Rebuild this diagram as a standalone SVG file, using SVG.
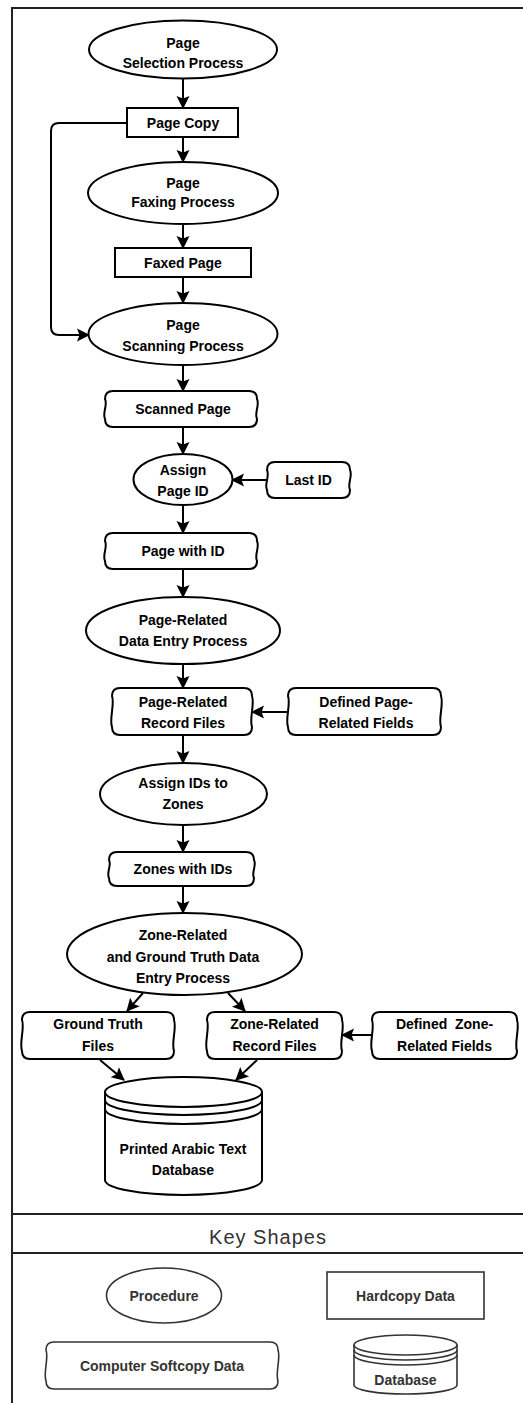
<svg xmlns="http://www.w3.org/2000/svg" width="523" height="1403" viewBox="0 0 523 1403">
<style>
.s{fill:#fff;stroke:#000;stroke-width:2}
.k{fill:#fff;stroke:#333;stroke-width:1.6}
.t{font-family:"Liberation Sans",Arial,sans-serif;font-weight:bold;font-size:14px;fill:#000;text-anchor:middle}
.kt{font-family:"Liberation Sans",Arial,sans-serif;font-weight:bold;font-size:14px;fill:#333;text-anchor:middle}
.c{fill:none;stroke:#000;stroke-width:2}
.f{fill:none;stroke:#222;stroke-width:2}
</style>
<defs>
<marker id="ah" markerUnits="userSpaceOnUse" markerWidth="14" markerHeight="14" viewBox="0 0 13 14" refX="12" refY="7" orient="auto">
<path d="M0,0.5 L13,7 L0,13.5 L2.5,7 Z" fill="#000"/>
</marker>
</defs>
<rect x="0" y="0" width="523" height="1403" fill="#fff"/>
<g id="frame">
<path class="f" d="M12,1403 V8 H523"/>
<path class="f" d="M12,1214 H523 M12,1253 H523"/>
<text x="268" y="1244" style="font-family:'Liberation Sans',Arial,sans-serif;font-size:20px;fill:#333;letter-spacing:1px" text-anchor="middle">Key Shapes</text>
</g>
<g id="connectors">
<path class="c" marker-end="url(#ah)" d="M183,78 V108"/>
<path class="c" marker-end="url(#ah)" d="M183,137 V162"/>
<path class="c" marker-end="url(#ah)" d="M183,224 V248"/>
<path class="c" marker-end="url(#ah)" d="M183,277 V303"/>
<path class="c" marker-end="url(#ah)" d="M127,123 H59 Q51,123 51,131 V327 Q51,335 59,335 H89"/>
<path class="c" marker-end="url(#ah)" d="M183,365 V391"/>
<path class="c" marker-end="url(#ah)" d="M183,427 V454"/>
<path class="c" marker-end="url(#ah)" d="M267,480 H232"/>
<path class="c" marker-end="url(#ah)" d="M183,505 V533"/>
<path class="c" marker-end="url(#ah)" d="M183,569 V597"/>
<path class="c" marker-end="url(#ah)" d="M183,664 V688"/>
<path class="c" marker-end="url(#ah)" d="M288,712 H252"/>
<path class="c" marker-end="url(#ah)" d="M183,735 V763"/>
<path class="c" marker-end="url(#ah)" d="M183,825 V852"/>
<path class="c" marker-end="url(#ah)" d="M183,886 V913"/>
<path class="c" marker-end="url(#ah)" d="M143,993 L127,1011"/>
<path class="c" marker-end="url(#ah)" d="M228,993 L245,1011"/>
<path class="c" marker-end="url(#ah)" d="M372,1035 H342"/>
<path class="c" marker-end="url(#ah)" d="M100,1060 L124,1080"/>
<path class="c" marker-end="url(#ah)" d="M257,1060 L236,1080"/>
</g>
<g id="n-selection">
<ellipse class="s" cx="183" cy="49.5" rx="94" ry="29"/>
<text class="t" x="183" y="48">Page</text>
<text class="t" x="183" y="68">Selection Process</text>
</g>
<g id="n-pagecopy">
<rect class="s" x="127" y="108" width="111" height="29"/>
<text class="t" x="183" y="128">Page Copy</text>
</g>
<g id="n-faxing">
<ellipse class="s" cx="183" cy="193" rx="95" ry="31"/>
<text class="t" x="183" y="188">Page</text>
<text class="t" x="183" y="207">Faxing Process</text>
</g>
<g id="n-faxed">
<rect class="s" x="115" y="248" width="136" height="29"/>
<text class="t" x="183" y="267.5">Faxed Page</text>
</g>
<g id="n-scanning">
<ellipse class="s" cx="183" cy="334" rx="94.5" ry="31"/>
<text class="t" x="183" y="330">Page</text>
<text class="t" x="183" y="351">Scanning Process</text>
</g>
<g id="n-scanned">
<path class="s" d="M113,391 H249 Q257,391 257,399 C260,405 254,413 257,419 Q257,427 249,427 H113 Q105,427 105,419 C102,413 108,405 105,399 Q105,391 113,391 Z"/>
<text class="t" x="183" y="414">Scanned Page</text>
</g>
<g id="n-assignpage">
<ellipse class="s" cx="183" cy="479.5" rx="49.5" ry="25.5"/>
<text class="t" x="183" y="475">Assign</text>
<text class="t" x="183" y="496">Page ID</text>
</g>
<g id="n-lastid">
<path class="s" d="M275,462 H342 Q350,462 350,470 C353,476 347,484 350,490 Q350,498 342,498 H275 Q267,498 267,490 C264,484 270,476 267,470 Q267,462 275,462 Z"/>
<text class="t" x="308.5" y="485">Last ID</text>
</g>
<g id="n-pagewithid">
<path class="s" d="M113,533 H249 Q257,533 257,541 C260,547 254,555 257,561 Q257,569 249,569 H113 Q105,569 105,561 C102,555 108,547 105,541 Q105,533 113,533 Z"/>
<text class="t" x="183" y="556">Page with ID</text>
</g>
<g id="n-pagedataentry">
<ellipse class="s" cx="183" cy="630.5" rx="97" ry="33.5"/>
<text class="t" x="183" y="625">Page-Related</text>
<text class="t" x="183" y="646">Data Entry Process</text>
</g>
<g id="n-pagerecords">
<path class="s" d="M120,688 H244 Q252,688 252,696 C255,704 249,719 252,727 Q252,735 244,735 H120 Q112,735 112,727 C109,719 115,704 112,696 Q112,688 120,688 Z"/>
<text class="t" x="183" y="707">Page-Related</text>
<text class="t" x="183" y="728">Record Files</text>
</g>
<g id="n-pagefields">
<path class="s" d="M296,688 H433 Q441,688 441,696 C444,704 438,719 441,727 Q441,735 433,735 H296 Q288,735 288,727 C285,719 291,704 288,696 Q288,688 296,688 Z"/>
<text class="t" x="366" y="707">Defined Page-</text>
<text class="t" x="366" y="728">Related Fields</text>
</g>
<g id="n-assignzones">
<ellipse class="s" cx="183.5" cy="794" rx="83.5" ry="31"/>
<text class="t" x="183" y="788">Assign IDs to</text>
<text class="t" x="183" y="809">Zones</text>
</g>
<g id="n-zoneswithids">
<path class="s" d="M117,852 H246 Q254,852 254,860 C257,865 251,873 254,878 Q254,886 246,886 H117 Q109,886 109,878 C106,873 112,865 109,860 Q109,852 117,852 Z"/>
<text class="t" x="183" y="874">Zones with IDs</text>
</g>
<g id="n-zonedataentry">
<ellipse class="s" cx="184.5" cy="954" rx="117.5" ry="41"/>
<text class="t" x="183" y="940">Zone-Related</text>
<text class="t" x="183" y="962">and Ground Truth Data</text>
<text class="t" x="183" y="983">Entry Process</text>
</g>
<g id="n-groundtruth">
<path class="s" d="M30,1012 H166 Q174,1012 174,1020 C177,1028 171,1043 174,1051 Q174,1059 166,1059 H30 Q22,1059 22,1051 C19,1043 25,1028 22,1020 Q22,1012 30,1012 Z"/>
<text class="t" x="98" y="1029">Ground Truth</text>
<text class="t" x="98" y="1051">Files</text>
</g>
<g id="n-zonerecords">
<path class="s" d="M215,1012 H334 Q342,1012 342,1020 C345,1028 339,1043 342,1051 Q342,1059 334,1059 H215 Q207,1059 207,1051 C204,1043 210,1028 207,1020 Q207,1012 215,1012 Z"/>
<text class="t" x="274.5" y="1029">Zone-Related</text>
<text class="t" x="274.5" y="1051">Record Files</text>
</g>
<g id="n-zonefields">
<path class="s" d="M380,1012 H509 Q517,1012 517,1020 C520,1028 514,1043 517,1051 Q517,1059 509,1059 H380 Q372,1059 372,1051 C369,1043 375,1028 372,1020 Q372,1012 380,1012 Z"/>
<text class="t" x="444.5" y="1029" xml:space="preserve" style="white-space:pre">Defined  Zone-</text>
<text class="t" x="444.5" y="1051">Related Fields</text>
</g>
<g id="n-database">
<path class="s" d="M105,1092 V1180 A78.5,15 0 0 0 262,1180 V1092"/>
<ellipse class="s" cx="183.5" cy="1092" rx="78.5" ry="15"/>
<path class="c" d="M105,1100 A78.5,15 0 0 0 262,1100 M105,1109 A78.5,15 0 0 0 262,1109"/>
<text class="t" x="183" y="1154">Printed Arabic Text</text>
<text class="t" x="183" y="1175">Database</text>
</g>
<g id="key-procedure">
<ellipse class="k" cx="164" cy="1295.5" rx="57.5" ry="27.5"/>
<text class="kt" x="164" y="1301">Procedure</text>
</g>
<g id="key-hardcopy">
<rect class="k" x="327" y="1272" width="157" height="47"/>
<text class="kt" x="405.5" y="1301">Hardcopy Data</text>
</g>
<g id="key-softcopy">
<path class="k" d="M54,1342 H270 Q278,1342 278,1350 C281,1358 275,1373 278,1381 Q278,1389 270,1389 H54 Q46,1389 46,1381 C43,1373 49,1358 46,1350 Q46,1342 54,1342 Z"/>
<text class="kt" x="162" y="1371">Computer Softcopy Data</text>
</g>
<g id="key-database">
<path class="k" d="M354,1345 V1385 A51.5,9 0 0 0 457,1385 V1345"/>
<ellipse class="k" cx="405.5" cy="1345" rx="51.5" ry="10"/>
<path fill="none" stroke="#333" stroke-width="1.6" d="M354,1350 A51.5,10 0 0 0 457,1350 M354,1355 A51.5,10 0 0 0 457,1355"/>
<text class="kt" x="405.5" y="1385">Database</text>
</g>
</svg>
